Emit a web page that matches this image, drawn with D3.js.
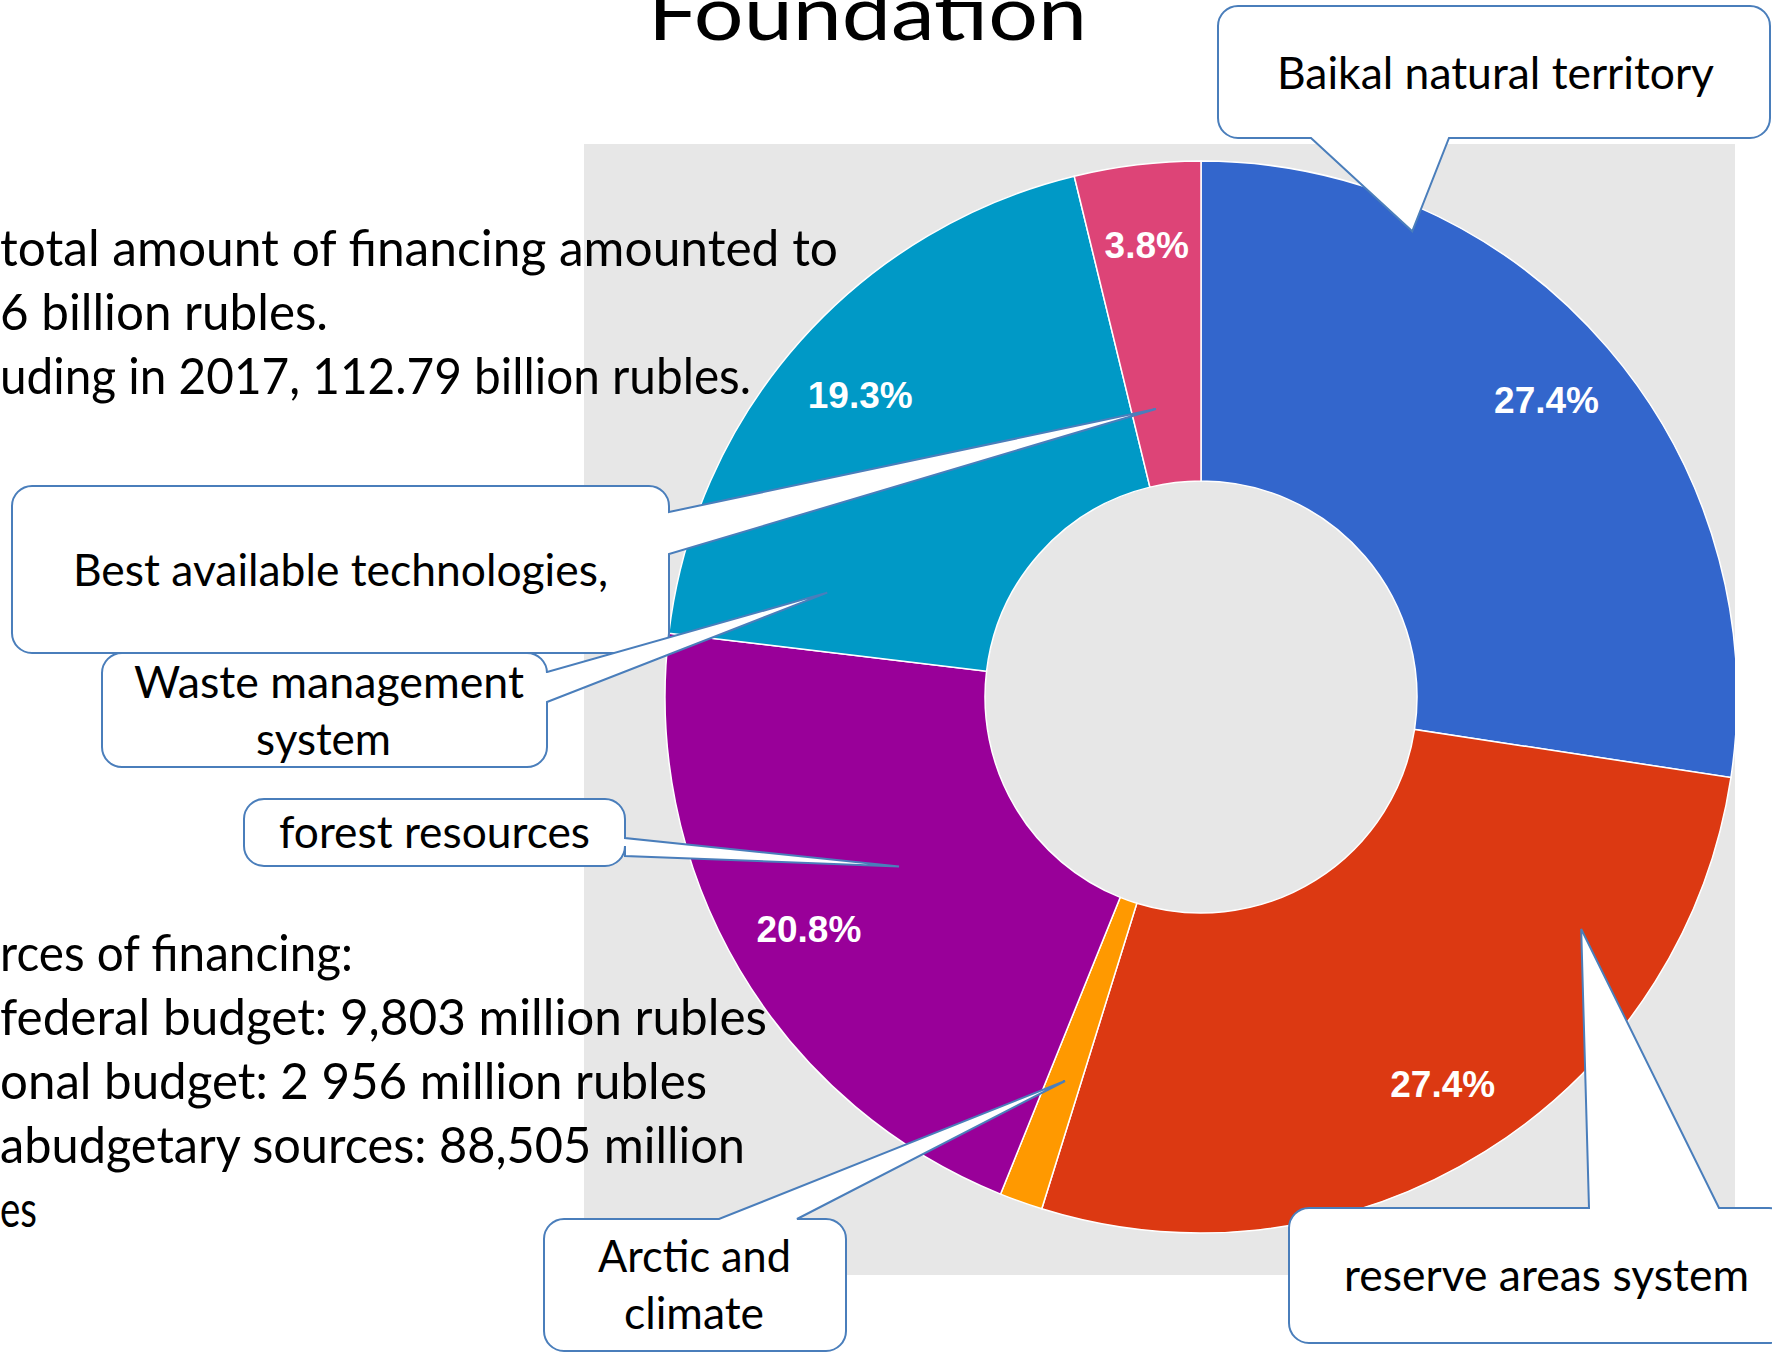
<!DOCTYPE html>
<html>
<head>
<meta charset="utf-8">
<script src="https://cdn.jsdelivr.net/npm/d3@7"></script>
<style>
  body { margin: 0; background: #fff; }
  svg { display: block; }
</style>
</head>
<body>
<div id="chart"></div>
<script>
// slice data (clockwise from 12 o'clock)
var categories = ["Baikal natural territory", "reserve areas system", "Arctic and climate",
                  "forest resources", "Waste management system", "Best available technologies"];
var shares = [27.4, 27.4, 1.3, 20.8, 19.3, 3.8];
var sliceColors = ["#3366cc", "#dc3912", "#ff9900", "#990099", "#0099c6", "#dd4477"];

// slide text (left part is cut off in the original)
var titleText = "Foundation";
var topLines = ["total amount of financing amounted to", "6 billion rubles.",
                "uding in 2017, 112.79 billion rubles."];
var bottomLines = ["rces of financing:", "federal budget: 9,803 million rubles",
                   "onal budget: 2 956 million rubles", "abudgetary sources: 88,505 million", "es"];

// callout texts, with the slice each one points at
var calloutLines = [["Baikal natural territory"], ["Best available technologies,"],
                    ["Waste management", "system"], ["forest resources"],
                    ["Arctic and", "climate"], ["reserve areas system"]];
var calloutSlice = [0, 5, 4, 3, 2, 1];

function init() {
    var w = 1772, h = 1353;
    var cx = 1201, cy = 697, R = 536, r0 = 216;

    var svg = d3.select("#chart").append("svg")
        .attr("width", w).attr("height", h);

    // grey chart area
    var plot = {x: 584, y: 144, w: 1151, h: 1131};
    svg.append("rect")
        .attr("x", plot.x).attr("y", plot.y)
        .attr("width", plot.w).attr("height", plot.h)
        .attr("fill", "#e7e7e7");

    svg.append("clipPath").attr("id", "plotclip")
        .append("rect")
        .attr("x", plot.x).attr("y", plot.y)
        .attr("width", plot.w).attr("height", plot.h);

    var data = categories.map(function(c, i) {
        return {name: c, value: shares[i], color: sliceColors[i]};
    });

    var pie = d3.pie().sort(null).value(function(d) { return d.value; });
    var arcs = pie(data);
    var arc = d3.arc().innerRadius(r0).outerRadius(R);
    var labelArc = d3.arc().innerRadius(R * 0.85).outerRadius(R * 0.85);

    var g = svg.append("g")
        .attr("clip-path", "url(#plotclip)")
        .append("g")
        .attr("transform", "translate(" + cx + "," + cy + ")");

    g.selectAll("path.slice")
        .data(arcs)
        .enter().append("path")
        .attr("class", "slice")
        .attr("d", arc)
        .attr("fill", function(d) { return d.data.color; })
        .attr("stroke", "#fff")
        .attr("stroke-width", 1.5);

    g.selectAll("text.pct")
        .data(arcs.filter(function(d) { return d.data.value >= 2; }))
        .enter().append("text")
        .attr("class", "pct")
        .attr("transform", function(d) { return "translate(" + labelArc.centroid(d) + ")"; })
        .attr("text-anchor", "middle")
        .attr("dy", "0.36em")
        .attr("fill", "#fff")
        .style("font-family", "'Liberation Sans', Arial, sans-serif")
        .style("font-weight", "bold")
        .style("font-size", "37px")
        .text(function(d) { return d.data.value.toFixed(1) + "%"; });

    // title, mostly cut off at the top
    svg.append("text")
        .attr("x", 648).attr("y", 40)
        .attr("textLength", 439).attr("lengthAdjust", "spacingAndGlyphs")
        .style("font-family", "Lato, sans-serif")
        .style("font-size", "76px")
        .text(titleText);

    // left text blocks
    var body = {size: 50, step: 64};
    var topWidths = [838, 328, 751];
    var bottomWidths = [353, 767, 707, 745, 37];
    svg.selectAll("text.top")
        .data(topLines)
        .enter().append("text")
        .attr("class", "top")
        .attr("x", 0)
        .attr("y", function(d, i) { return 266 + i * body.step; })
        .attr("textLength", function(d, i) { return topWidths[i]; })
        .attr("lengthAdjust", "spacingAndGlyphs")
        .style("font-family", "Lato, sans-serif")
        .style("font-size", body.size + "px")
        .text(function(d) { return d; });

    svg.selectAll("text.bottom")
        .data(bottomLines)
        .enter().append("text")
        .attr("class", "bottom")
        .attr("x", 0)
        .attr("y", function(d, i) { return 971 + i * body.step; })
        .attr("textLength", function(d, i) { return bottomWidths[i]; })
        .attr("lengthAdjust", "spacingAndGlyphs")
        .style("font-family", "Lato, sans-serif")
        .style("font-size", body.size + "px")
        .text(function(d) { return d; });

    // callout shapes: box, side of the pointer, pointer base, tip (angle deg, radius fraction)
    var callouts = [
        {box: [1218, 6, 552, 132], side: "bottom", base: [1311, 1449], tip: [24.4, 0.954],
         tx: 1277, ty: [89], tw: [437]},
        {box: [12, 486, 657, 167], side: "right", base: [512, 554], tip: [351.1, 0.544],
         tx: 73, ty: [586], tw: [535]},
        {box: [102, 653, 445, 114], side: "right", base: [672, 702], tip: [285.6, 0.724],
         tx: [134, 256], ty: [698, 755], tw: [390, 135]},
        {box: [244, 799, 381, 67], side: "right", base: [838, 856], tip: [240.7, 0.646],
         tx: 279, ty: [848], tw: [311]},
        {box: [544, 1219, 302, 132], side: "top", base: [719, 797], tip: [199.5, 0.76],
         tx: [598, 624], ty: [1272, 1329], tw: [193, 140]},
        {box: [1289, 1208, 500, 135], side: "top", base: [1589, 1719], tip: [121.4, 0.831],
         tx: 1344, ty: [1291], tw: [405]}
    ];

    function tipPoint(t) {
        var a = t[0] * Math.PI / 180;
        return [cx + t[1] * R * Math.sin(a), cy - t[1] * R * Math.cos(a)];
    }

    function calloutPath(c) {
        var x = c.box[0], y = c.box[1], bw = c.box[2], bh = c.box[3], rr = 20;
        var tp = tipPoint(c.tip);
        var p = "M" + (x + rr) + "," + y;
        if (c.side == "top") p += "L" + c.base[0] + "," + y + "L" + tp + "L" + c.base[1] + "," + y;
        p += "L" + (x + bw - rr) + "," + y + "A" + rr + "," + rr + " 0 0 1 " + (x + bw) + "," + (y + rr);
        if (c.side == "right") p += "L" + (x + bw) + "," + c.base[0] + "L" + tp + "L" + (x + bw) + "," + c.base[1];
        p += "L" + (x + bw) + "," + (y + bh - rr) + "A" + rr + "," + rr + " 0 0 1 " + (x + bw - rr) + "," + (y + bh);
        if (c.side == "bottom") p += "L" + c.base[1] + "," + (y + bh) + "L" + tp + "L" + c.base[0] + "," + (y + bh);
        p += "L" + (x + rr) + "," + (y + bh) + "A" + rr + "," + rr + " 0 0 1 " + x + "," + (y + bh - rr);
        p += "L" + x + "," + (y + rr) + "A" + rr + "," + rr + " 0 0 1 " + (x + rr) + "," + y + "Z";
        return p;
    }

    var cg = svg.selectAll("g.callout")
        .data(callouts)
        .enter().append("g")
        .attr("class", "callout");

    cg.append("path")
        .attr("d", calloutPath)
        .attr("fill", "#fff")
        .attr("stroke", "#4a7ebb")
        .attr("stroke-width", 2);

    cg.each(function(c, i) {
        var lines = calloutLines[i];
        var sel = d3.select(this);
        lines.forEach(function(line, j) {
            var tx = Array.isArray(c.tx) ? c.tx[j] : c.tx;
            sel.append("text")
                .attr("x", tx)
                .attr("y", c.ty[j])
                .attr("textLength", c.tw[j])
                .attr("lengthAdjust", "spacingAndGlyphs")
                .style("font-family", "Lato, sans-serif")
                .style("font-size", "45px")
                .text(line);
        });
    });
}
window.onload = init;
</script>
</body>
</html>
